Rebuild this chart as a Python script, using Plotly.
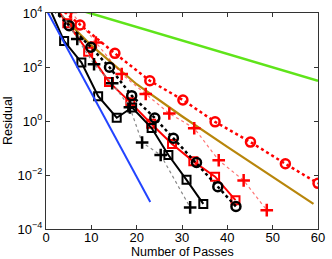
import plotly.graph_objects as go

# ---- data ----
blue_x = [0, 23]
blue_y = [1.4e4, 1.0e-3]

green_x = [0, 60]
green_y = [3.0e4, 31]

brown_x = [3, 10, 20, 30, 40, 50, 59]
brown_y = [9.3e3, 6.3e2, 23, 1.5, 0.11, 8.7e-3, 8.5e-4]

ksq_x = [0, 4.0, 7.8, 11.5, 15.6, 19.0, 23.3, 27.0, 31.0, 34.7]
ksq_y = [3.0e4, 912, 148, 8.3, 1.32, 3.16, 0.55, 0.055, 6.6e-3, 8.5e-4]

kci_x = [0, 5.1, 9.9, 14.0, 18.9, 24.0, 28.1, 33.2, 37.9, 41.9]
kci_y = [2.5e4, 3.4e3, 5.4e2, 98, 8.7, 1.29, 0.23, 0.029, 3.7e-3, 6.8e-4]

rsq_x = [0, 4.7, 9.3, 13.9, 18.6, 23.2, 27.8, 32.5, 37.3, 41.8]
rsq_y = [5.0e4, 4.2e3, 3.7e2, 28, 4.9, 0.79, 0.14, 0.032, 8.7e-3, 1.17e-3]

rpl_x = [5.5, 11.0, 16.7, 22.0, 27.2, 32.7, 38.1, 43.6, 48.7]
rpl_y = [1.1e4, 8.1e2, 55, 10, 1.9, 0.54, 0.035, 6.3e-3, 5.0e-4]

rci_x = [0, 7.5, 15.2, 22.9, 30.2, 37.3, 45.1, 52.8, 60.0]
rci_y = [4.0e4, 3.6e3, 3.2e2, 31, 6.0, 0.93, 0.166, 0.026, 4.9e-3]

kpl_x = [2.9, 6.9, 10.6, 14.6, 18.5, 21.2, 25.3, 31.8]
kpl_y = [1.26e4, 1.1e3, 126, 25, 3.2, 0.16, 0.055, 6.3e-4]

x_ticks = [0, 10, 20, 30, 40, 50, 60]
y_ticks = [1e-4, 1e-2, 1, 1e2, 1e4]
y_ticktext = ["10<sup>\u22124</sup>", "10<sup>\u22122</sup>", "10<sup>0</sup>",
              "10<sup>2</sup>", "10<sup>4</sup>"]

RED = "#ff0000"
fig = go.Figure()

fig.add_trace(go.Scatter(x=green_x, y=green_y, mode="lines",
                         line=dict(color="#5fe41a", width=2.5)))
fig.add_trace(go.Scatter(x=brown_x, y=brown_y, mode="lines",
                         line=dict(color="#b8860b", width=2.2)))
fig.add_trace(go.Scatter(x=rci_x, y=rci_y, mode="lines+markers",
                         line=dict(color=RED, width=2.5, dash="dot"),
                         marker=dict(symbol="circle-open", size=9, color=RED,
                                     line=dict(width=2.5, color=RED))))
fig.add_trace(go.Scatter(x=rpl_x, y=rpl_y, mode="lines+markers",
                         line=dict(color="rgba(255,0,0,0.55)", width=1.2, dash="dot"),
                         marker=dict(symbol="cross-thin-open", size=9, color=RED,
                                     line=dict(width=2.5, color=RED))))
fig.add_trace(go.Scatter(x=rsq_x, y=rsq_y, mode="lines+markers",
                         line=dict(color=RED, width=2),
                         marker=dict(symbol="square-open", size=8, color=RED,
                                     line=dict(width=2, color=RED))))
fig.add_trace(go.Scatter(x=kci_x, y=kci_y, mode="lines+markers",
                         line=dict(color="black", width=2.5, dash="dot"),
                         marker=dict(symbol="circle-open", size=9, color="black",
                                     line=dict(width=2.5, color="black"))))
fig.add_trace(go.Scatter(x=kpl_x, y=kpl_y, mode="lines+markers",
                         line=dict(color="#888888", width=1.2, dash="dot"),
                         marker=dict(symbol="cross-thin-open", size=9, color="black",
                                     line=dict(width=2.5, color="black"))))
fig.add_trace(go.Scatter(x=ksq_x, y=ksq_y, mode="lines+markers",
                         line=dict(color="black", width=2),
                         marker=dict(symbol="square-open", size=8, color="black",
                                     line=dict(width=2, color="black"))))
fig.add_trace(go.Scatter(x=blue_x, y=blue_y, mode="lines",
                         line=dict(color="#2244ff", width=2)))

font = dict(family="Liberation Sans, Arial, sans-serif", size=13, color="black")
title_font = dict(family="Liberation Sans, Arial, sans-serif", size=12.5, color="black")
fig.update_layout(
    width=332, height=259,
    margin=dict(l=46, r=14, t=13, b=30, autoexpand=False),
    paper_bgcolor="white", plot_bgcolor="white",
    showlegend=False, font=font,
    xaxis=dict(range=[0, 60], tickvals=x_ticks, ticks="inside", ticklen=4,
               showgrid=False, zeroline=False, showline=True, linecolor="#333",
               linewidth=1, mirror="ticks", tickcolor="#333", automargin=False,
               ticklabelstandoff=-4),
    yaxis=dict(type="log", range=[-4, 4], tickvals=y_ticks, ticktext=y_ticktext,
               ticks="inside", ticklen=4, showgrid=False, zeroline=False,
               showline=True, linecolor="#333", linewidth=1, mirror="ticks",
               tickcolor="#333", automargin=False),
    annotations=[
        dict(text="Number of Passes", xref="paper", yref="paper", x=0.5, y=0,
             yshift=-13.5, yanchor="top", showarrow=False, font=title_font),
        dict(text="Residual", xref="paper", yref="paper", x=0, y=0.5,
             xshift=-38, xanchor="center", textangle=-90, showarrow=False,
             font=title_font),
    ],
)

fig.write_html("out.html", config={"displayModeBar": False},
               post_script="document.body.style.margin='0px';")
